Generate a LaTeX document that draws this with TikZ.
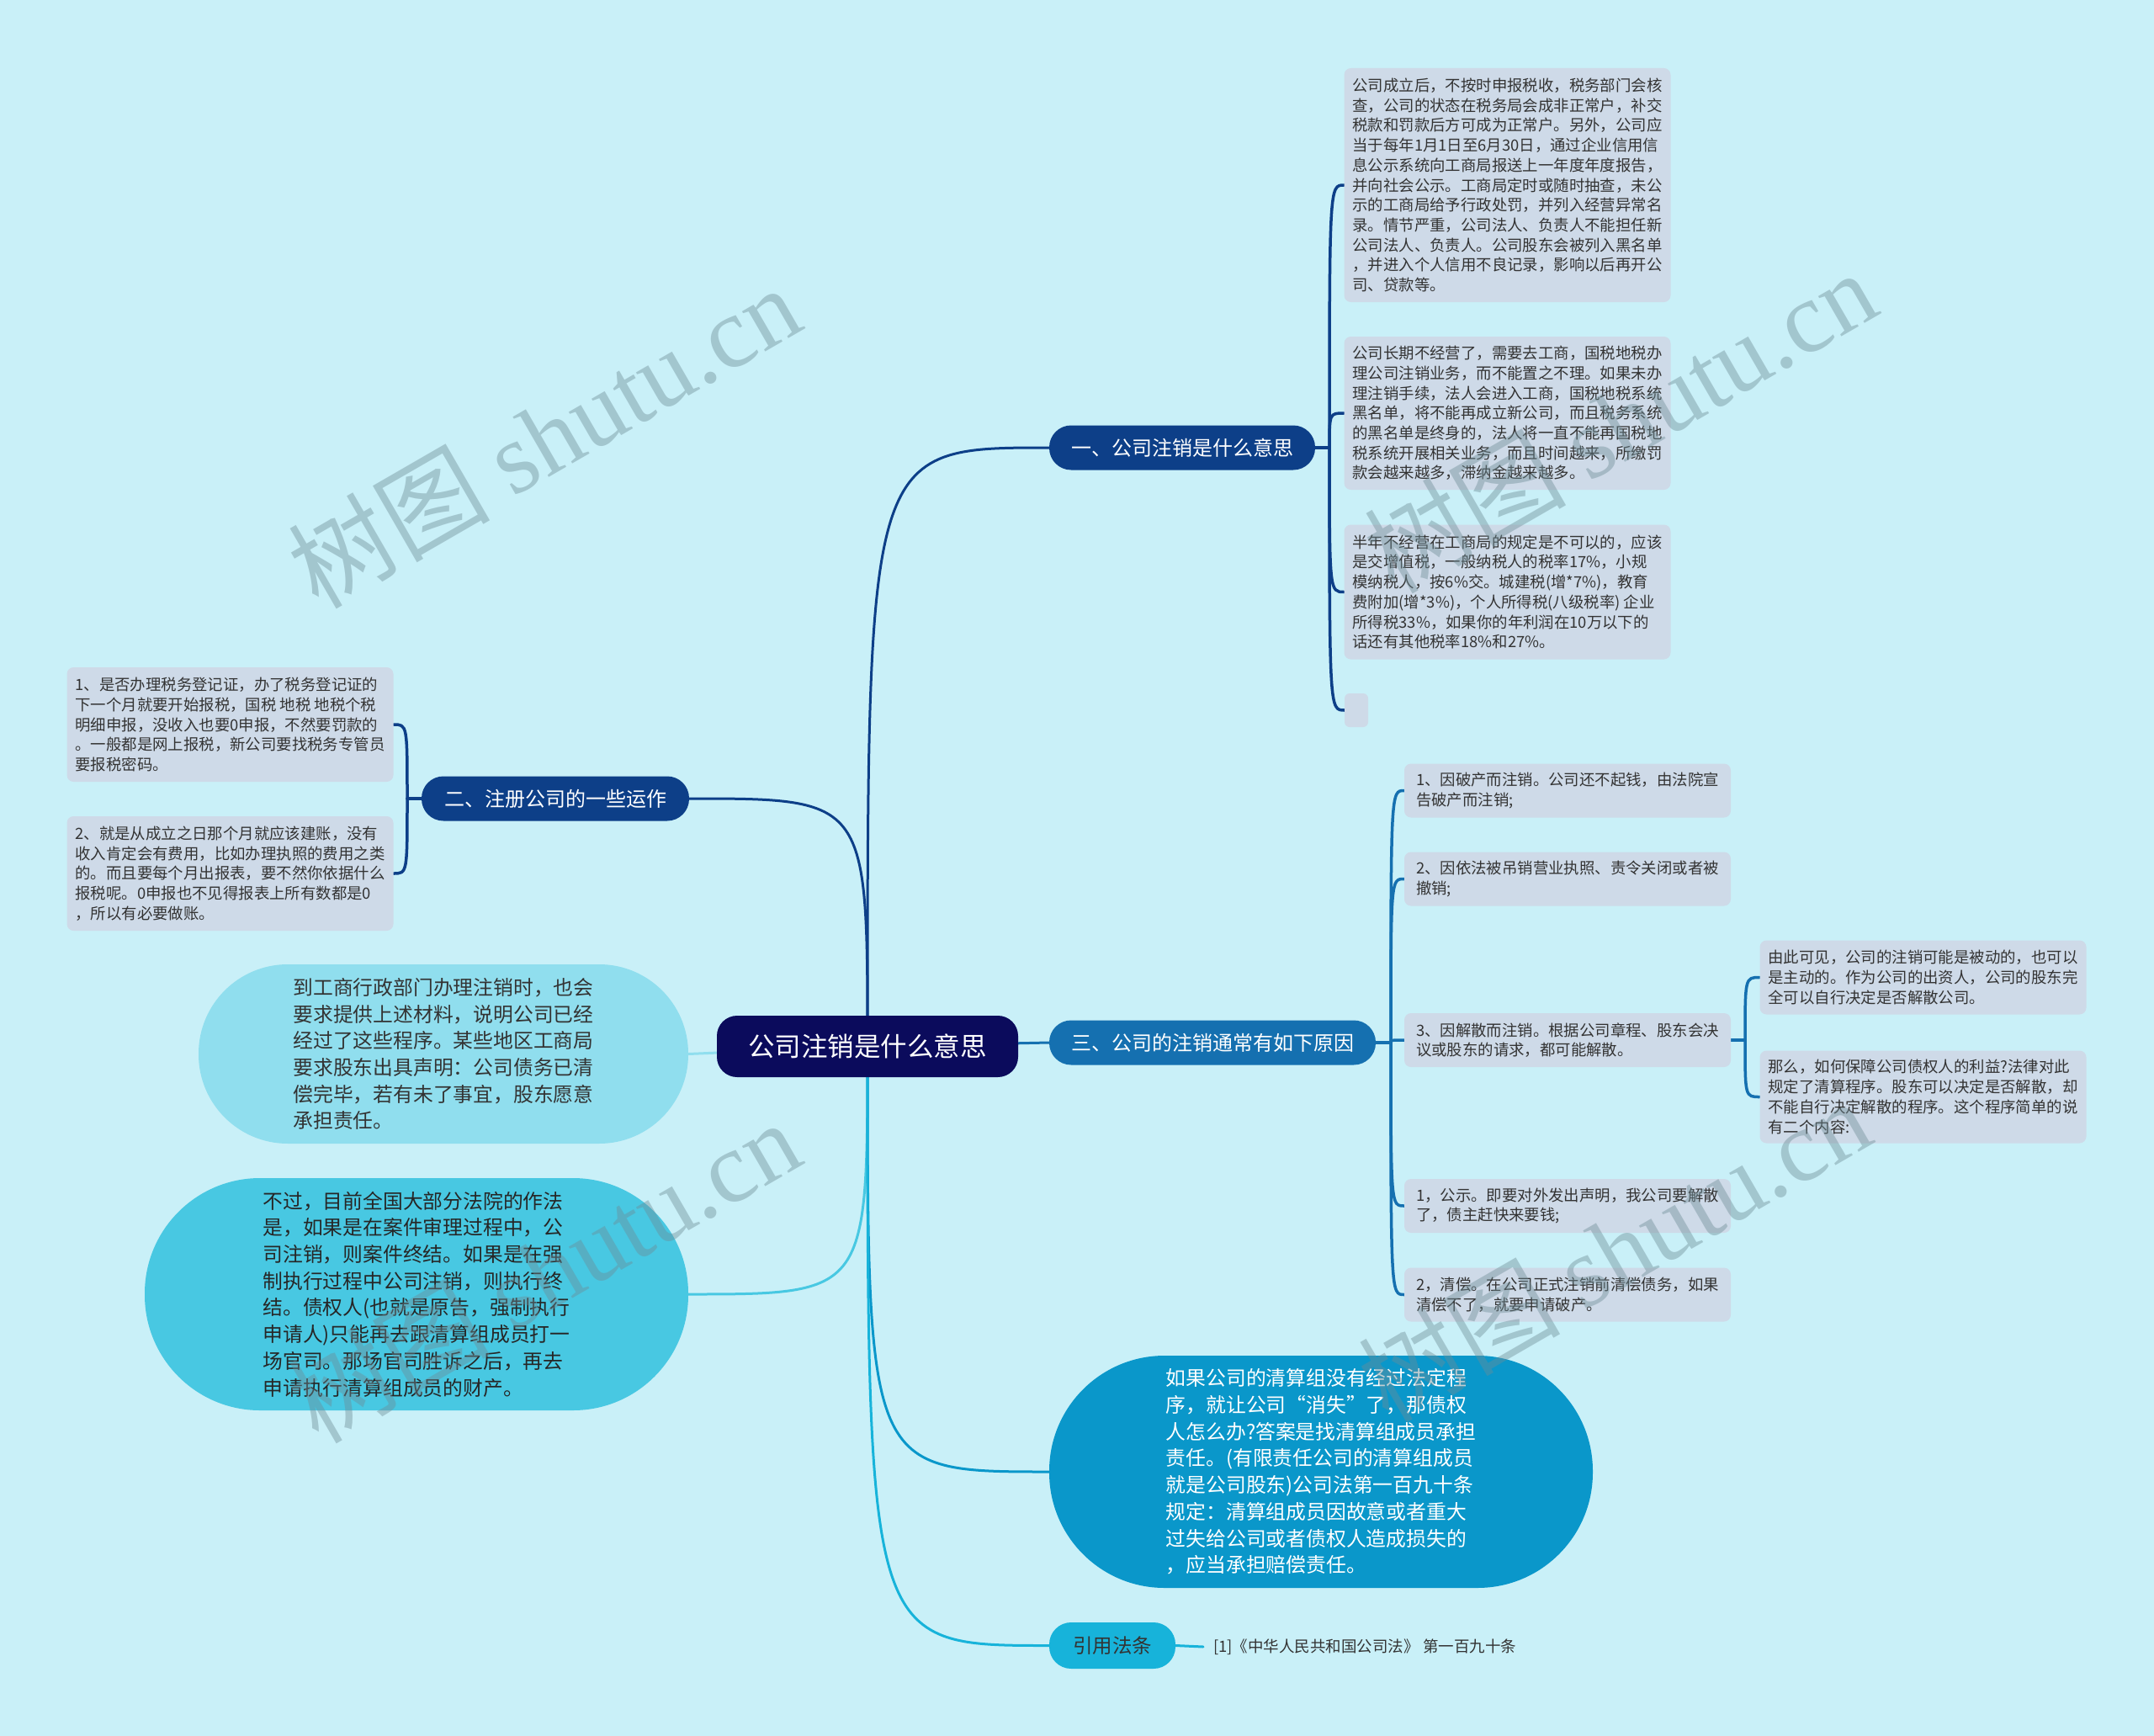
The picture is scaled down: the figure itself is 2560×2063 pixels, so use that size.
\documentclass[tikz,border=0pt]{standalone}
\usepackage{fontspec}
\setmainfont{Noto Sans CJK SC}
\newfontfamily\wmlatin{Liberation Serif}
\newfontfamily\wmcjk{Noto Sans CJK SC}
\definecolor{bgc}{RGB}{201,240,248}
\definecolor{leafc}{RGB}{206,218,232}
\definecolor{rootc}{RGB}{11,11,92}
\definecolor{darkb}{RGB}{13,63,136}
\definecolor{midb}{RGB}{21,112,176}
\definecolor{lightb}{RGB}{144,222,238}
\definecolor{cyanb}{RGB}{72,200,226}
\definecolor{oceanb}{RGB}{10,151,202}
\definecolor{refb}{RGB}{23,179,218}
\definecolor{txt}{RGB}{51,51,51}
\definecolor{wmc}{RGB}{110,140,150}
\pgfdeclarelayer{bg}
\pgfdeclarelayer{lines}
\pgfdeclarelayer{wm}
\pgfsetlayers{bg,lines,main,wm}
\begin{document}
\begin{tikzpicture}[x=1pt,y=-1pt,
  leaf/.style={fill=leafc, rounded corners=8pt, text=txt, align=left, inner xsep=9pt, inner ysep=4pt, font=\fontsize{18.4}{23.7}\selectfont, minimum width=388pt},
  cat/.style={rounded corners=26pt, text=white, font=\fontsize{24}{28}\selectfont, minimum height=53pt, inner sep=0pt},
  bubble/.style={align=left, inner sep=0pt, font=\fontsize{23.8}{31.7}\selectfont},
  link/.style={line width=3pt, line cap=round},
  brk/.style={line width=3.5pt, line cap=round},
  wmark/.style={text=wmc, text opacity=0.42, font=\fontsize{120}{130}\selectfont, rotate=30, inner sep=0pt}]
\begin{pgfonlayer}{bg}
\fill[bgc] (0,0) rectangle (2560,2063);
\end{pgfonlayer}
\path[use as bounding box] (0,0) rectangle (2560,2063);

% root
\node[fill=rootc, rounded corners=24pt, text=white, minimum width=358pt, minimum height=73pt, inner sep=0pt, font=\fontsize{31.5}{36}\selectfont] (root) at (1031,1243.5) {公司注销是什么意思};

% main branches
\node[cat, fill=darkb, minimum width=316pt] (n1) at (1405,532) {一、公司注销是什么意思};
\node[cat, fill=darkb, minimum width=318pt] (n2) at (660,949) {二、注册公司的一些运作};
\node[cat, fill=midb, minimum width=388pt] (n3) at (1441,1239) {三、公司的注销通常有如下原因};
\node[cat, fill=refb, text=txt, minimum width=150pt, minimum height=55pt, font=\fontsize{23.5}{28}\selectfont] (n4) at (1322,1955.5) {引用法条};
\node[anchor=west, inner xsep=12pt, inner ysep=0pt, text=txt, font=\fontsize{18.5}{22}\selectfont] (ref) at (1430,1957) {[1]《中华人民共和国公司法》 第一百九十条};

% bubbles
\node[bubble, fill=lightb, text=txt, rounded corners=106pt, minimum width=582pt, minimum height=213pt] (b1) at (527,1252.5) {到工商行政部门办理注销时，也会\\要求提供上述材料，说明公司已经\\经过了这些程序。某些地区工商局\\要求股东出具声明：公司债务已清\\偿完毕，若有未了事宜，股东愿意\\承担责任。};
\node[bubble, fill=cyanb, text=black!85, rounded corners=137pt, minimum width=646pt, minimum height=276pt] (b2) at (495,1538) {不过，目前全国大部分法院的作法\\是，如果是在案件审理过程中，公\\司注销，则案件终结。如果是在强\\制执行过程中公司注销，则执行终\\结。债权人(也就是原告，强制执行\\申请人)只能再去跟清算组成员打一\\场官司。那场官司胜诉之后，再去\\申请执行清算组成员的财产。};
\node[bubble, fill=oceanb, text=white, rounded corners=137pt, minimum width=646pt, minimum height=276pt] (b3) at (1570,1749) {如果公司的清算组没有经过法定程\\序，就让公司“消失”了，那债权\\人怎么办?答案是找清算组成员承担\\责任。(有限责任公司的清算组成员\\就是公司股东)公司法第一百九十条\\规定：清算组成员因故意或者重大\\过失给公司或者债权人造成损失的\\，应当承担赔偿责任。};

% leaves of branch 1
\node[leaf, minimum height=278pt] (a1) at (1791.5,220) {公司成立后，不按时申报税收，税务部门会核\\查，公司的状态在税务局会成非正常户，补交\\税款和罚款后方可成为正常户。另外，公司应\\当于每年1月1日至6月30日，通过企业信用信\\息公示系统向工商局报送上一年度年度报告，\\并向社会公示。工商局定时或随时抽查，未公\\示的工商局给予行政处罚，并列入经营异常名\\录。情节严重，公司法人、负责人不能担任新\\公司法人、负责人。公司股东会被列入黑名单\\，并进入个人信用不良记录，影响以后再开公\\司、贷款等。};
\node[leaf, minimum height=182pt] (a2) at (1791.5,491) {公司长期不经营了，需要去工商，国税地税办\\理公司注销业务，而不能置之不理。如果未办\\理注销手续，法人会进入工商，国税地税系统\\黑名单，将不能再成立新公司，而且税务系统\\的黑名单是终身的，法人将一直不能再国税地\\税系统开展相关业务，而且时间越来，所缴罚\\款会越来越多，滞纳金越来越多。};
\node[leaf, minimum height=160pt] (a3) at (1791.5,703.5) {半年不经营在工商局的规定是不可以的，应该\\是交增值税，一般纳税人的税率17\%，小规\\模纳税人，按6\%交。城建税(增*7\%)，教育\\费附加(增*3\%)，个人所得税(八级税率) 企业\\所得税33\%，如果你的年利润在10万以下的\\话还有其他税率18\%和27\%。};
\node[fill=leafc, rounded corners=6pt, minimum width=28pt, minimum height=40pt, inner sep=0pt] (a4) at (1612,844) {};

% leaves of branch 2
\node[leaf, minimum height=136pt] (c1) at (273.5,861) {1、是否办理税务登记证，办了税务登记证的\\下一个月就要开始报税，国税 地税 地税个税\\明细申报，没收入也要0申报，不然要罚款的\\。一般都是网上报税，新公司要找税务专管员\\要报税密码。};
\node[leaf, minimum height=136pt] (c2) at (273.5,1038) {2、就是从成立之日那个月就应该建账，没有\\收入肯定会有费用，比如办理执照的费用之类\\的。而且要每个月出报表，要不然你依据什么\\报税呢。0申报也不见得报表上所有数都是0\\，所以有必要做账。};

% leaves of branch 3
\node[leaf, minimum height=64pt] (d1) at (1863,939.5) {1、因破产而注销。公司还不起钱，由法院宣\\告破产而注销;};
\node[leaf, minimum height=64pt] (d2) at (1863,1044.5) {2、因依法被吊销营业执照、责令关闭或者被\\撤销;};
\node[leaf, minimum height=64pt] (d3) at (1863,1236) {3、因解散而注销。根据公司章程、股东会决\\议或股东的请求，都可能解散。};
\node[leaf, minimum height=88pt] (e1) at (2285.5,1161.5) {由此可见，公司的注销可能是被动的，也可以\\是主动的。作为公司的出资人，公司的股东完\\全可以自行决定是否解散公司。};
\node[leaf, minimum height=110pt] (e2) at (2285.5,1303.5) {那么，如何保障公司债权人的利益?法律对此\\规定了清算程序。股东可以决定是否解散，却\\不能自行决定解散的程序。这个程序简单的说\\有二个内容:};
\node[leaf, minimum height=64pt] (d4) at (1863,1433) {1，公示。即要对外发出声明，我公司要解散\\了，债主赶快来要钱;};
\node[leaf, minimum height=64pt] (d5) at (1863,1538.5) {2，清偿。在公司正式注销前清偿债务，如果\\清偿不了，就要申请破产。};

% junctions
\coordinate (j1) at (1580,532);
\coordinate (j2) at (484,949);
\coordinate (j3) at (1653,1239);
\coordinate (j4) at (2074,1236);

\begin{pgfonlayer}{lines}
\draw[link, darkb] (root.center) .. controls (root.center |- n1.west) .. (n1.west);
\draw[link, darkb] (root.center) .. controls (root.center |- n2.east) .. (n2.east);
\draw[link, midb] (root.center) -- (n3.west);
\draw[link, lightb] (root.center) -- (b1.east);
\draw[link, cyanb] (root.center) .. controls (root.center |- b2.east) .. (b2.east);
\draw[link, oceanb] (root.center) .. controls (root.center |- b3.west) .. (b3.west);
\draw[link, refb] (root.center) .. controls (root.center |- n4.west) .. (n4.west);
\draw[link, refb] (n4.east) -- (ref.west);
% bracket 1
\draw[brk, darkb] (n1.east) -- (j1);
\foreach \t in {a1,a2,a3,a4} \draw[brk, darkb] (j1) .. controls (j1 |- \t.west) .. (\t.west);
% bracket 2
\draw[brk, darkb] (n2.west) -- (j2);
\foreach \t in {c1,c2} \draw[brk, darkb] (j2) .. controls (j2 |- \t.east) .. (\t.east);
% bracket 3
\draw[brk, midb] (n3.east) -- (j3);
\foreach \t in {d1,d2,d3,d4,d5} \draw[brk, midb] (j3) .. controls (j3 |- \t.west) .. (\t.west);
% bracket 4
\draw[brk, midb] (d3.east) -- (j4);
\foreach \t in {e1,e2} \draw[brk, midb] (j4) .. controls (j4 |- \t.west) .. (\t.west);
\end{pgfonlayer}

\begin{pgfonlayer}{wm}
\node[wmark] (w1) at (646,518) {{\wmcjk 树图} {\wmlatin shutu.cn}};
\node[wmark] (w2) at (1925,500) {{\wmcjk 树图} {\wmlatin shutu.cn}};
\node[wmark] (w3) at (646,1510) {{\wmcjk 树图} {\wmlatin shutu.cn}};
\node[wmark] (w4) at (1918,1485) {{\wmcjk 树图} {\wmlatin shutu.cn}};
\end{pgfonlayer}
\end{tikzpicture}
\end{document}
